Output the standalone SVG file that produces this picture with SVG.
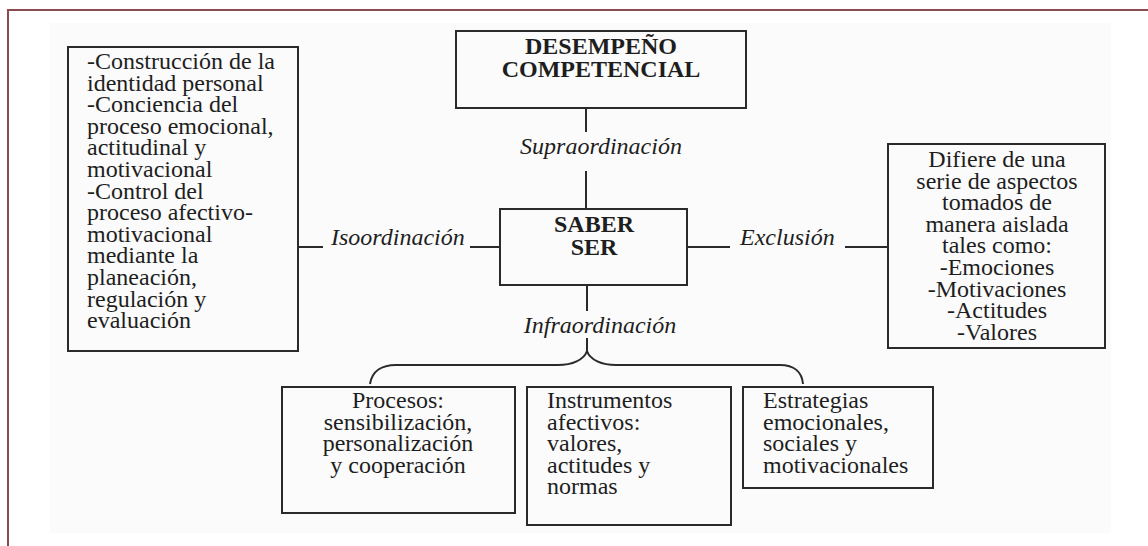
<svg xmlns="http://www.w3.org/2000/svg" width="1148" height="546" viewBox="0 0 1148 546">
<style>
.t{font-family:"Liberation Serif","Times New Roman",serif;font-size:24px;fill:#1e1e1e}
.b{font-weight:bold}
.i{font-style:italic}
.c{text-anchor:middle}
.box{fill:none;stroke:#2a2a2a;stroke-width:2}
.ln{fill:none;stroke:#2a2a2a;stroke-width:2}
</style>
<rect x="0" y="0" width="1148" height="546" fill="#ffffff"/>
<rect x="50" y="23" width="1061" height="510" fill="#fbfbfb"/>
<path d="M8,546 L8,10 L1148,10" fill="none" stroke="#8b4b53" stroke-width="2"/>

<g id="connectors">
<line class="ln" x1="586" y1="108" x2="586" y2="132"/>
<line class="ln" x1="586" y1="171" x2="586" y2="209"/>
<text class="t i c" x="601" y="154">Supraordinación</text>
<line class="ln" x1="298" y1="247" x2="323" y2="247"/>
<text class="t i" x="331" y="245">Isoordinación</text>
<line class="ln" x1="470" y1="247" x2="500" y2="247"/>
<line class="ln" x1="687" y1="247" x2="730" y2="247"/>
<text class="t i" x="740" y="245">Exclusión</text>
<line class="ln" x1="845" y1="247" x2="888" y2="247"/>
<line class="ln" x1="587" y1="285" x2="587" y2="311"/>
<text class="t i c" x="600" y="333">Infraordinación</text>
<line class="ln" x1="587" y1="338" x2="587" y2="351"/>
<path class="ln" d="M370,384 C372,371 382,365 396,365 L558,365 C572,365 584,360 587,351 C590,360 602,365 616,365 L780,365 C794,365 802,372 803,384"/>
</g>

<g id="desempeno">
<rect class="box" x="456" y="31" width="290" height="77"/>
<text class="t b c" x="601" y="54">DESEMPEÑO</text>
<text class="t b c" x="601" y="77">COMPETENCIAL</text>
</g>

<g id="saber-ser">
<rect class="box" x="500" y="209" width="187" height="76"/>
<text class="t b c" x="594" y="232">SABER</text>
<text class="t b c" x="594" y="255">SER</text>
</g>

<g id="isoordinacion-box">
<rect class="box" x="68" y="47" width="230" height="304"/>
<text class="t" x="87" y="69">-Construcción de la</text>
<text class="t" x="87" y="90.6">identidad personal</text>
<text class="t" x="87" y="112.2">-Conciencia del</text>
<text class="t" x="87" y="133.8">proceso emocional,</text>
<text class="t" x="87" y="155.4">actitudinal y</text>
<text class="t" x="87" y="177">motivacional</text>
<text class="t" x="87" y="198.6">-Control del</text>
<text class="t" x="87" y="220.2">proceso afectivo-</text>
<text class="t" x="87" y="241.8">motivacional</text>
<text class="t" x="87" y="263.4">mediante la</text>
<text class="t" x="87" y="285">planeación,</text>
<text class="t" x="87" y="306.6">regulación y</text>
<text class="t" x="87" y="328.2">evaluación</text>
</g>

<g id="exclusion-box">
<rect class="box" x="888" y="144" width="217" height="204"/>
<text class="t c" x="997" y="167">Difiere de una</text>
<text class="t c" x="997" y="188.6">serie de aspectos</text>
<text class="t c" x="997" y="210.2">tomados de</text>
<text class="t c" x="997" y="231.8">manera aislada</text>
<text class="t c" x="997" y="253.4">tales como:</text>
<text class="t c" x="997" y="275">-Emociones</text>
<text class="t c" x="997" y="296.6">-Motivaciones</text>
<text class="t c" x="997" y="318.2">-Actitudes</text>
<text class="t c" x="997" y="339.8">-Valores</text>
</g>

<g id="procesos">
<rect class="box" x="282" y="387" width="233" height="126"/>
<text class="t c" x="398" y="408">Procesos:</text>
<text class="t c" x="398" y="429.6">sensibilización,</text>
<text class="t c" x="398" y="451.2">personalización</text>
<text class="t c" x="398" y="472.8">y cooperación</text>
</g>

<g id="instrumentos">
<rect class="box" x="527" y="387" width="204" height="138"/>
<text class="t" x="547" y="408">Instrumentos</text>
<text class="t" x="547" y="429.6">afectivos:</text>
<text class="t" x="547" y="451.2">valores,</text>
<text class="t" x="547" y="472.8">actitudes y</text>
<text class="t" x="547" y="494.4">normas</text>
</g>

<g id="estrategias">
<rect class="box" x="743" y="387" width="190" height="101"/>
<text class="t" x="763" y="408">Estrategias</text>
<text class="t" x="763" y="429.6">emocionales,</text>
<text class="t" x="763" y="451.2">sociales y</text>
<text class="t" x="763" y="472.8">motivacionales</text>
</g>
</svg>
